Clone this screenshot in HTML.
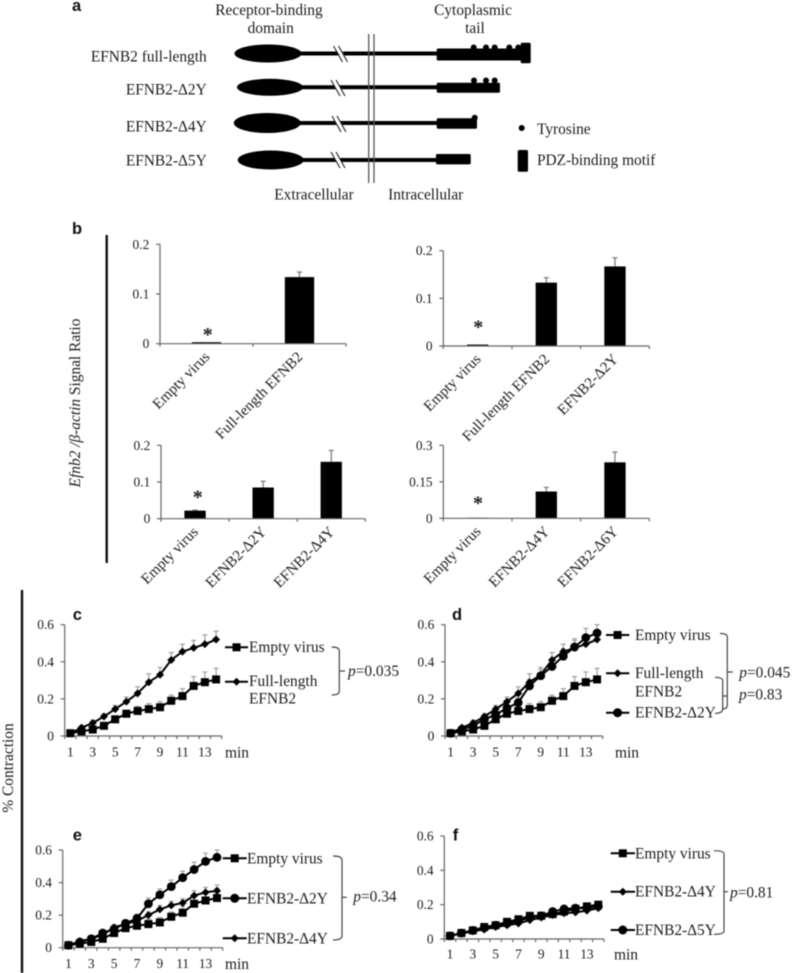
<!DOCTYPE html>
<html lang="en">
<head>
<meta charset="utf-8">
<title>EFNB2 figure</title>
<style>
html,body{margin:0;padding:0;background:#fff;}
svg{display:block;filter:blur(0.4px);}
text{font-family:"Liberation Serif",serif;fill:#1c1c1c;}
.lg{font-size:15.4px;}
.pl{font-family:"Liberation Sans",sans-serif;font-weight:bold;font-size:16.5px;fill:#111;}
.sample{stroke:#000;stroke-width:2;}
.br{fill:none;stroke:#444;stroke-width:1.2;}
</style>
</head>
<body>
<svg id="fig" width="792" height="973" viewBox="0 0 792 973" xmlns="http://www.w3.org/2000/svg">
<rect width="792" height="973" fill="#fff"/>

<!-- Panel a -->
<g>
  <text class="pl" x="72" y="11">a</text>
  <text class="lg" x="269" y="15" text-anchor="middle">Receptor-binding</text>
  <text class="lg" x="270.7" y="33" text-anchor="middle">domain</text>
  <text class="lg" x="473" y="15" text-anchor="middle">Cytoplasmic</text>
  <text class="lg" x="475" y="33" text-anchor="middle">tail</text>

  <text class="lg" x="206.7" y="61.7" text-anchor="end">EFNB2 full-length</text>
  <text class="lg" x="206.7" y="94.3" text-anchor="end">EFNB2-Δ2Y</text>
  <text class="lg" x="206.7" y="131.7" text-anchor="end">EFNB2-Δ4Y</text>
  <text class="lg" x="206.7" y="165.7" text-anchor="end">EFNB2-Δ5Y</text>

  <g>
    <ellipse cx="268" cy="53.5" rx="33.5" ry="9" fill="#000"/>
    <line x1="295" y1="53.5" x2="440" y2="53.5" stroke="#000" stroke-width="4"/>
    <rect x="436.7" y="48.5" width="86" height="12" rx="1.5" fill="#000"/>
    <rect x="520.7" y="42.7" width="10" height="20.6" rx="1.5" fill="#000"/>
    <circle cx="473.7" cy="47.5" r="3"/><circle cx="486" cy="47.5" r="3"/><circle cx="494.7" cy="47.5" r="3"/><circle cx="509.3" cy="47.5" r="3"/><circle cx="518.3" cy="47.5" r="3"/>
    <polygon points="334,45 339,45 348,62 343,62" fill="#fff"/>
    <path d="M333.5 46 L342.5 62 M338.5 46 L347.5 62" stroke="#222" stroke-width="1.1" fill="none"/>
  </g>
  <g>
    <ellipse cx="270" cy="87.3" rx="33" ry="8.5" fill="#000"/>
    <line x1="297" y1="87.3" x2="440" y2="87.3" stroke="#000" stroke-width="4"/>
    <rect x="436.7" y="82.7" width="63.3" height="10" rx="1.5" fill="#000"/>
    <circle cx="474" cy="80.5" r="3"/><circle cx="486" cy="80.5" r="3"/><circle cx="494.7" cy="80.5" r="3"/>
    <polygon points="331,79 336,79 345,96 340,96" fill="#fff"/>
    <path d="M331 80 L340 96 M336 80 L345 96" stroke="#222" stroke-width="1.1" fill="none"/>
  </g>
  <g>
    <ellipse cx="267.3" cy="123" rx="33.5" ry="10" fill="#000"/>
    <line x1="295" y1="123" x2="440" y2="123" stroke="#000" stroke-width="4"/>
    <rect x="436.7" y="118.3" width="40.3" height="10.4" rx="1.5" fill="#000"/>
    <circle cx="474.7" cy="117.7" r="3"/>
    <polygon points="332,115 337,115 346,132 341,132" fill="#fff"/>
    <path d="M332 116 L341 132 M337 116 L346 132" stroke="#222" stroke-width="1.1" fill="none"/>
  </g>
  <g>
    <ellipse cx="270.7" cy="160" rx="33" ry="9.5" fill="#000"/>
    <line x1="298" y1="160" x2="440" y2="160" stroke="#000" stroke-width="4"/>
    <rect x="436" y="154" width="34.7" height="10.4" rx="1.5" fill="#000"/>
    <polygon points="331,151 336,151 345,168 340,168" fill="#fff"/>
    <path d="M331 152 L340 168 M336 152 L345 168" stroke="#222" stroke-width="1.1" fill="none"/>
  </g>
  <line x1="368.7" y1="34" x2="368.7" y2="183" stroke="#555" stroke-width="1.3"/>
  <line x1="374" y1="34" x2="374" y2="183" stroke="#555" stroke-width="1.3"/>
  <text class="lg" x="314" y="199.3" text-anchor="middle">Extracellular</text>
  <text class="lg" x="425.7" y="199.3" text-anchor="middle">Intracellular</text>
  <circle cx="521.7" cy="128" r="3" fill="#000"/>
  <text class="lg" x="537" y="134">Tyrosine</text>
  <rect x="517.7" y="150" width="10.3" height="21.7" rx="1.5" fill="#000"/>
  <text class="lg" x="537" y="165">PDZ-binding motif</text>
</g>

<!-- Panel b static -->
<text class="pl" x="72" y="234">b</text>
<line x1="106.7" y1="235" x2="106.7" y2="563" stroke="#111" stroke-width="2.4"/>
<text transform="translate(80,403) rotate(-90)" text-anchor="middle" font-size="15.4"><tspan font-style="italic">Efnb2 /β-actin</tspan> Signal Ratio</text>

<!-- Panels c-f static -->
<line x1="22" y1="590" x2="22" y2="973" stroke="#111" stroke-width="2.4"/>
<text transform="translate(13,768) rotate(-90)" text-anchor="middle" font-size="15.4">% Contraction</text>
<text class="pl" x="72.7" y="620">c</text>
<text class="pl" x="452" y="620">d</text>
<text class="pl" x="72.7" y="840.7">e</text>
<text class="pl" x="452.7" y="840.7">f</text>

<g id="charts"></g>

<!-- Legend c -->
<g>
  <g><line class="sample" x1="225" x2="248" y1="647.3" y2="647.3"/><rect x="232.5" y="643.3" width="8" height="8" fill="#000"/><text class="lg" x="249" y="652">Empty virus</text></g>
  <g><line class="sample" x1="225" x2="248" y1="681.7" y2="681.7"/><polygon points="236.5,677.7 240.5,681.7 236.5,685.7 232.5,681.7" fill="#000"/><text class="lg" x="249" y="686">Full-length</text><text class="lg" x="249" y="703.3">EFNB2</text></g>
  <path class="br" d="M331.7 647 Q339.3 647 339.3 651 V691 Q339.3 695 331.7 695"/>
  <line class="br" x1="339.3" x2="345" y1="671" y2="671"/>
  <text class="lg" x="348" y="676"><tspan font-style="italic">p</tspan>=0.035</text>
</g>

<!-- Legend d -->
<g>
  <g><line class="sample" x1="606" x2="629.3" y1="635" y2="635"/><rect x="613.6" y="631" width="8" height="8" fill="#000"/><text class="lg" x="635" y="640">Empty virus</text></g>
  <g><line class="sample" x1="606" x2="629.3" y1="673.3" y2="673.3"/><polygon points="617.6,669.3 621.6,673.3 617.6,677.3 613.6,673.3" fill="#000"/><text class="lg" x="635" y="678">Full-length</text><text class="lg" x="635" y="696.7">EFNB2</text></g>
  <g><line class="sample" x1="606" x2="629.3" y1="712.7" y2="712.7"/><circle cx="617.6" cy="712.7" r="4.5" fill="#000"/><text class="lg" x="635" y="717.7">EFNB2-Δ2Y</text></g>
  <path class="br" d="M720 633.5 Q727.3 633.5 727.3 637 V705 Q727.3 709 722 709"/>
  <line class="br" x1="727.3" x2="733" y1="672" y2="672"/>
  <path class="br" d="M715 677.3 Q722.7 677.3 722.7 681 V709 Q722.7 713.3 715 713.3"/>
  <line class="br" x1="722.7" x2="728" y1="696" y2="696"/>
  <text class="lg" x="739.3" y="677.3"><tspan font-style="italic">p</tspan>=0.045</text>
  <text class="lg" x="739" y="699.3"><tspan font-style="italic">p</tspan>=0.83</text>
</g>

<!-- Legend e -->
<g>
  <g><line class="sample" x1="222.7" x2="246.7" y1="858.3" y2="858.3"/><rect x="230.7" y="854.3" width="8" height="8" fill="#000"/><text class="lg" x="247" y="863.3">Empty virus</text></g>
  <g><line class="sample" x1="222.7" x2="246.7" y1="898.3" y2="898.3"/><circle cx="234.7" cy="898.3" r="4.5" fill="#000"/><text class="lg" x="247" y="903.3">EFNB2-Δ2Y</text></g>
  <g><line class="sample" x1="222.7" x2="246.7" y1="938.3" y2="938.3"/><polygon points="234.7,934.3 238.7,938.3 234.7,942.3 230.7,938.3" fill="#000"/><text class="lg" x="247" y="943.3">EFNB2-Δ4Y</text></g>
  <path class="br" d="M333 856 Q342 856 342 860 V936 Q342 940 333 940"/>
  <line class="br" x1="342" x2="346.7" y1="897.3" y2="897.3"/>
  <text class="lg" x="353.3" y="901.7"><tspan font-style="italic">p</tspan>=0.34</text>
</g>

<!-- Legend f -->
<g>
  <g><line class="sample" x1="610.7" x2="635" y1="853.3" y2="853.3"/><rect x="618.8" y="849.3" width="8" height="8" fill="#000"/><text class="lg" x="635" y="858.3">Empty virus</text></g>
  <g><line class="sample" x1="610.7" x2="635" y1="891.7" y2="891.7"/><polygon points="622.8,887.7 626.8,891.7 622.8,895.7 618.8,891.7" fill="#000"/><text class="lg" x="635" y="896.7">EFNB2-Δ4Y</text></g>
  <g><line class="sample" x1="610.7" x2="635" y1="930" y2="930"/><circle cx="622.8" cy="930" r="4.5" fill="#000"/><text class="lg" x="635" y="935">EFNB2-Δ5Y</text></g>
  <path class="br" d="M714 850.7 Q724 850.7 724 854 V931 Q724 934.3 714 934.3"/>
  <line class="br" x1="724" x2="728" y1="891.7" y2="891.7"/>
  <text class="lg" x="730" y="897.3"><tspan font-style="italic">p</tspan>=0.81</text>
</g>
</svg>

<script>
// ---- Bar chart data (panel b) ----
var b1Categories = ['Empty virus', 'Full-length EFNB2'];
var b1Values = [0.003, 0.134];
var b1Errors = [0, 0.010];
var b1Ticks = [0, 0.1, 0.2];

var b2Categories = ['Empty virus', 'Full-length EFNB2', 'EFNB2-Δ2Y'];
var b2Values = [0.003, 0.133, 0.167];
var b2Errors = [0, 0.010, 0.018];
var b2Ticks = [0, 0.1, 0.2];

var b3Categories = ['Empty virus', 'EFNB2-Δ2Y', 'EFNB2-Δ4Y'];
var b3Values = [0.022, 0.085, 0.155];
var b3Errors = [0.001, 0.017, 0.031];
var b3Ticks = [0, 0.1, 0.2];

var b4Categories = ['Empty virus', 'EFNB2-Δ4Y', 'EFNB2-Δ6Y'];
var b4Values = [0.002, 0.110, 0.230];
var b4Errors = [0, 0.017, 0.042];
var b4Ticks = [0, 0.15, 0.3];

// ---- Line chart data (panels c-f) ----
var minutes = [1,2,3,4,5,6,7,8,9,10,11,12,13,14];
var contractionTicks = [0, 0.2, 0.4, 0.6];

var emptyValues = [0.015,0.025,0.035,0.055,0.09,0.12,0.135,0.145,0.155,0.19,0.215,0.27,0.29,0.305];
var emptyErrors = [0.005,0.01,0.01,0.01,0.015,0.02,0.025,0.03,0.03,0.03,0.04,0.05,0.055,0.06];
var fullValues = [0.015,0.045,0.07,0.105,0.145,0.185,0.23,0.29,0.33,0.41,0.455,0.475,0.495,0.52];
var fullErrors = [0.005,0.01,0.015,0.015,0.02,0.025,0.035,0.045,0.04,0.04,0.04,0.04,0.05,0.045];
var d2yValues = [0.015,0.035,0.055,0.09,0.115,0.15,0.18,0.27,0.325,0.375,0.43,0.48,0.53,0.555];
var d2yErrors = [0.005,0.01,0.01,0.015,0.02,0.02,0.025,0.035,0.035,0.04,0.04,0.045,0.05,0.045];
var d4yValues = [0.015,0.04,0.055,0.08,0.125,0.145,0.165,0.2,0.235,0.26,0.275,0.32,0.34,0.35];
var d4yErrors = [0.005,0.01,0.01,0.01,0.015,0.015,0.02,0.02,0.025,0.025,0.025,0.03,0.03,0.035];

var fEmptyValues = [0.018,0.035,0.05,0.07,0.08,0.1,0.115,0.135,0.135,0.145,0.16,0.175,0.19,0.2];
var fEmptyErrors = [0.003,0.004,0.004,0.005,0.005,0.005,0.005,0.006,0.006,0.006,0.006,0.007,0.007,0.007];
var fD4yValues = [0.018,0.032,0.045,0.055,0.07,0.08,0.09,0.11,0.125,0.14,0.15,0.155,0.165,0.18];
var fD4yErrors = [0.003,0.004,0.004,0.005,0.005,0.005,0.005,0.006,0.006,0.006,0.006,0.007,0.007,0.007];
var fD5yValues = [0.018,0.035,0.05,0.065,0.08,0.09,0.105,0.125,0.135,0.16,0.175,0.18,0.18,0.19];
var fD5yErrors = [0.003,0.004,0.004,0.005,0.005,0.005,0.005,0.006,0.006,0.006,0.006,0.007,0.007,0.007];

var NS = 'http://www.w3.org/2000/svg';
var root = document.getElementById('charts');

function make(parent, tag, attrs, content) {
  var el = document.createElementNS(NS, tag);
  for (var k in attrs) el.setAttribute(k, attrs[k]);
  if (content !== undefined) el.textContent = content;
  parent.appendChild(el);
  return el;
}

function linearScale(dMax, py0, pyTop) {
  return function (v) { return py0 - (v / dMax) * (py0 - pyTop); };
}

function yAxis(g, x, y, ticks, name) {
  var axisLine = make(g, 'line', {x1: x, x2: x, y1: y(ticks[ticks.length - 1]), y2: y(0), stroke: '#666', 'stroke-width': 1.2});
  
  
  ticks.forEach(function (t) {
    var tick = make(g, 'line', {x1: x - 4, x2: x, y1: y(t), y2: y(t), stroke: '#666', 'stroke-width': 1.2});
    
    
    var label = make(g, 'text', {x: x - 10.7, y: y(t) + 4.5, 'text-anchor': 'end', 'font-size': 13.4}, String(t));
    
    
  });
}

function xAxisLine(g, x0, x1, yPos, count, name) {
  var axisLine = make(g, 'line', {x1: x0, x2: x1, y1: yPos, y2: yPos, stroke: '#666', 'stroke-width': 1.2});
  
  
  var step = (x1 - x0) / count;
  for (var i = 0; i <= count; i++) {
    var tick = make(g, 'line', {x1: x0 + step * i, x2: x0 + step * i, y1: yPos, y2: yPos + 3, stroke: '#666', 'stroke-width': 1.2});
    
    
  }
}

function barChart(name, cfg, categories, values, errors, ticks) {
  var g = make(root, 'g', {});
  
  
  var y = linearScale(ticks[ticks.length - 1], cfg.y0, cfg.yTop);
  var step = (cfg.x1 - cfg.x0) / categories.length;
  categories.forEach(function (c, i) {
    var cx = cfg.x0 + step * (i + 0.5);
    var h = cfg.y0 - y(values[i]);
    if (errors[i] > 0) {
      var err = make(g, 'path', {d: 'M' + cx + ' ' + y(values[i]) + 'V' + y(values[i] + errors[i]) + 'M' + (cx - 2.5) + ' ' + y(values[i] + errors[i]) + 'H' + (cx + 2.5), stroke: '#888', 'stroke-width': 1.4, fill: 'none'});
      
      
    }
    var bar = make(g, 'rect', {x: cx - cfg.barW / 2, y: y(values[i]), width: cfg.barW, height: h, fill: '#000'});
    
    
    var lx = cx + 4, ly = cfg.y0 + 14;
    var label = make(g, 'text', {x: lx, y: ly, 'text-anchor': 'end', 'font-size': 15, transform: 'rotate(-45 ' + lx + ' ' + ly + ')'}, c);
    
    
  });
  yAxis(g, cfg.x0, y, ticks, name);
  xAxisLine(g, cfg.x0, cfg.x1, cfg.y0, categories.length, name);
  var star = make(g, 'text', {x: cfg.starX, y: cfg.starY + 9.5, 'text-anchor': 'middle', 'font-size': 20, 'font-weight': 'bold'}, '*');
  
  
}

function drawMarker(g, kind, x, y) {
  var m;
  if (kind === 'square') {
    m = make(g, 'rect', {x: x - 4, y: y - 4, width: 8, height: 8, fill: '#000'});
  } else if (kind === 'circle') {
    m = make(g, 'circle', {cx: x, cy: y, r: 4.4, fill: '#000'});
  } else {
    m = make(g, 'polygon', {points: x + ',' + (y - 4) + ' ' + (x + 4) + ',' + y + ' ' + x + ',' + (y + 4) + ' ' + (x - 4) + ',' + y, fill: '#000'});
  }
  
  
}

function lineChart(name, cfg, series) {
  var g = make(root, 'g', {});
  
  
  var y = linearScale(contractionTicks[contractionTicks.length - 1], cfg.y0, cfg.yTop);
  var count = minutes.length;
  var step = (cfg.x1 - cfg.x0) / count;
  var xOf = function (i) { return cfg.x0 + step * (i + 0.5); };
  series.forEach(function (s) {
    var eg = make(g, 'g', {});
    
    
    s.values.forEach(function (v, i) {
      var top = y(v + s.errors[i]);
      make(eg, 'path', {d: 'M' + xOf(i) + ' ' + y(v) + 'V' + top + 'M' + (xOf(i) - 2.5) + ' ' + top + 'H' + (xOf(i) + 2.5), stroke: '#999', 'stroke-width': 1.1, fill: 'none'});
    });
  });
  yAxis(g, cfg.x0, y, contractionTicks, name);
  xAxisLine(g, cfg.x0, cfg.x1, cfg.y0, count, name);
  series.forEach(function (s) {
    var pts = s.values.map(function (v, i) { return xOf(i) + ',' + y(v); }).join(' ');
    var line = make(g, 'polyline', {points: pts, fill: 'none', stroke: '#000', 'stroke-width': 2});
    
    
    s.values.forEach(function (v, i) { drawMarker(g, s.marker, xOf(i), y(v)); });
  });
  minutes.forEach(function (m, i) {
    if (m % 2 === 1) {
      var label = make(g, 'text', {x: xOf(i), y: cfg.labelY, 'text-anchor': 'middle', 'font-size': 13.4}, String(m));
      
      
    }
  });
  var unit = make(g, 'text', {x: cfg.minX, y: cfg.labelY + 1, 'font-size': 15.4}, 'min');
  
  
}

barChart('bar-chart-b1', {x0: 160, x1: 346, y0: 343.7, yTop: 244.3, barW: 29.3, starX: 207.7, starY: 331.7}, b1Categories, b1Values, b1Errors, b1Ticks);
barChart('bar-chart-b2', {x0: 443.3, x1: 649.3, y0: 346, yTop: 250.7, barW: 21.3, starX: 478.3, starY: 324}, b2Categories, b2Values, b2Errors, b2Ticks);
barChart('bar-chart-b3', {x0: 161, x1: 365.3, y0: 518.7, yTop: 445.3, barW: 21.3, starX: 197.7, starY: 494}, b3Categories, b3Values, b3Errors, b3Ticks);
barChart('bar-chart-b4', {x0: 443.3, x1: 649.3, y0: 518.3, yTop: 445.3, barW: 21.3, starX: 478, starY: 500}, b4Categories, b4Values, b4Errors, b4Ticks);

lineChart('line-chart-c', {x0: 64.7, x1: 221.7, y0: 736, yTop: 624.7, labelY: 756.7, minX: 225}, [
  {name: 'full-length', marker: 'diamond', values: fullValues, errors: fullErrors},
  {name: 'empty-virus', marker: 'square', values: emptyValues, errors: emptyErrors}
]);
lineChart('line-chart-d', {x0: 445, x1: 602.7, y0: 736, yTop: 624.7, labelY: 756.7, minX: 615}, [
  {name: 'full-length', marker: 'diamond', values: fullValues, errors: fullErrors},
  {name: 'empty-virus', marker: 'square', values: emptyValues, errors: emptyErrors},
  {name: 'd2y', marker: 'circle', values: d2yValues, errors: d2yErrors}
]);
lineChart('line-chart-e', {x0: 62.7, x1: 222.7, y0: 947.7, yTop: 850, labelY: 968, minX: 225}, [
  {name: 'd4y', marker: 'diamond', values: d4yValues, errors: d4yErrors},
  {name: 'd2y', marker: 'circle', values: d2yValues, errors: d2yErrors},
  {name: 'empty-virus', marker: 'square', values: emptyValues, errors: emptyErrors}
]);
lineChart('line-chart-f', {x0: 444.3, x1: 604, y0: 939, yTop: 836, labelY: 958.3, minX: 614}, [
  {name: 'd5y', marker: 'circle', values: fD5yValues, errors: fD5yErrors},
  {name: 'empty-virus', marker: 'square', values: fEmptyValues, errors: fEmptyErrors},
  {name: 'd4y', marker: 'diamond', values: fD4yValues, errors: fD4yErrors}
]);
</script>
</body>
</html>
